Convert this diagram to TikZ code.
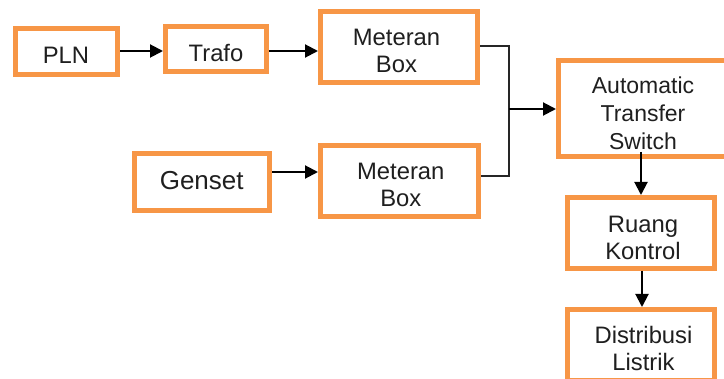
\documentclass[tikz,border=0pt]{standalone}
\usepackage{fontspec}
\setmainfont{Liberation Sans}
\usetikzlibrary{arrows.meta}
\definecolor{boxorange}{HTML}{F79646}
\definecolor{linegray}{HTML}{262626}
\begin{document}
\begin{tikzpicture}[x=1pt,y=-1pt,
  box/.style={draw=boxorange, line width=5pt, fill=white, inner sep=0pt},
  lbl/.style={anchor=base, align=center, inner sep=0pt, text=black!88,
              font=\fontsize{23.8}{27.5}\selectfont},
  arr/.style={draw=black, line width=2pt, -{Triangle[length=13pt,width=13pt]}},
  conn/.style={draw=linegray, line width=1.5pt}]
\useasboundingbox (0,0) rectangle (724,379);
\clip (0,0) rectangle (724,379);
\fill[white] (0,0) rectangle (724,379);
% boxes
\node[box, minimum width=102pt, minimum height=46pt] (pln) at (66.5,51.5) {};
\node[box, minimum width=101pt, minimum height=45pt] (trafo) at (216,49) {};
\node[box, minimum width=157pt, minimum height=71.5pt] (met1) at (399,47.25) {};
\node[box, minimum width=135pt, minimum height=57pt] (genset) at (202,182) {};
\node[box, minimum width=158pt, minimum height=71pt] (met2) at (399.5,181) {};
\node[box, minimum width=169pt, minimum height=96pt] (ats) at (643,108.5) {};
\node[box, minimum width=147pt, minimum height=71pt] (ruang) at (641,233) {};
\node[box, minimum width=147pt, minimum height=71pt] (dist) at (641,345) {};
% texts (anchor = baseline of last line)
\node[lbl] (pln-t) at (66,63.3) {PLN};
\node[lbl] (trafo-t) at (216,61.7) {Trafo};
\node[lbl] (met1-t) at (396.5,73) {Meteran\\Box};
\node[lbl, font=\fontsize{26}{30}\selectfont] (genset-t) at (201.7,189.3) {Genset};
\node[lbl] (met2-t) at (400.8,206.7) {Meteran\\Box};
\node[lbl, font=\fontsize{23}{28}\selectfont] (ats-t) at (643,149.3) {Automatic\\Transfer\\Switch};
\node[lbl] (ruang-t) at (643,260) {Ruang\\Kontrol};
\node[lbl] (dist-t) at (643.5,371) {Distribusi\\Listrik};
% connectors
\coordinate (j1) at (509,46);
\coordinate (j2) at (509,176);
\coordinate (jm) at (509,109);
\draw[arr] (pln.east |- 0,51) -- (trafo.west |- 0,51);
\draw[arr] (trafo.east |- 0,51) -- (met1.west |- 0,51);
\draw[arr] (genset.east |- 0,172) -- (met2.west |- 0,172);
\draw[conn] (met1.east |- j1) -- (j1) -- (j2) -- (met2.east |- j2);
\draw[arr] (jm) -- (ats.west |- jm);
\draw[arr] (641,152) -- (ruang.north -| 641,0);
\draw[arr] (ruang.south -| 642,0) -- (dist.north -| 642,0);
\end{tikzpicture}
\end{document}
